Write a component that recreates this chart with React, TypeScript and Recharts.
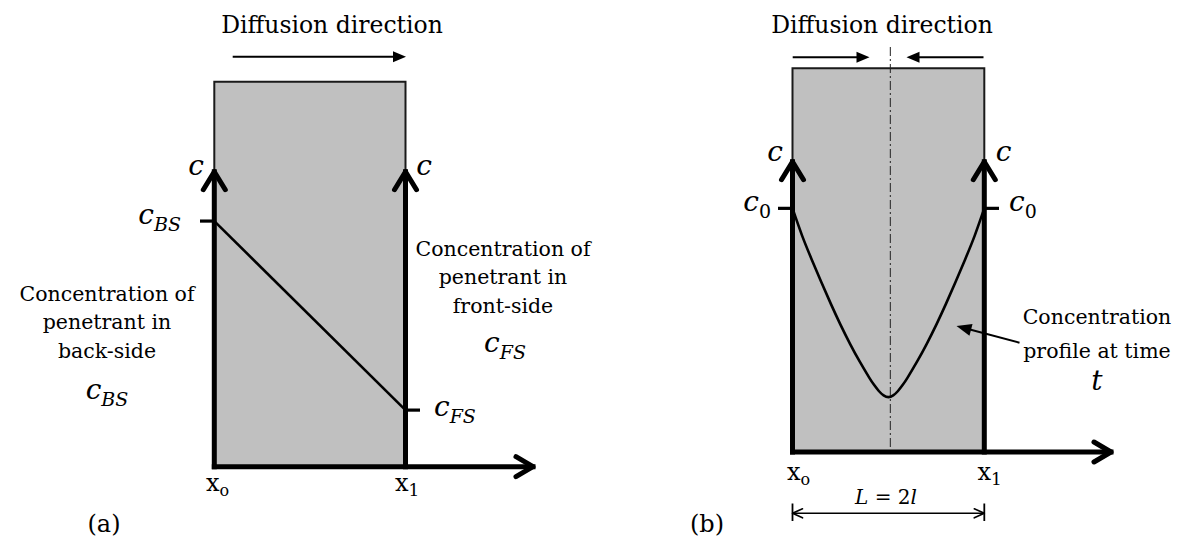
import React from 'react';
import { ComposedChart, XAxis, YAxis, Line, ReferenceArea, ReferenceLine, ReferenceDot } from 'recharts';

// ---------------- data ----------------
const TITLE = 'Diffusion direction';
const backSideText = ['Concentration of', 'penetrant in', 'back-side'];
const frontSideText = ['Concentration of', 'penetrant in', 'front-side'];
const profileNote = ['Concentration', 'profile at time'];
const panelTags = ['(a)', '(b)'];

// Panel (a): linear steady-state profile across the slab (x_o = 0, x_1 = 1)
const depthA = [0, 1];
const concA = [0.638, 0.147]; // c_BS, c_FS
const cBS = concA[0];
const cFS = concA[1];

// Panel (b): symmetric sorption profile at time t
const depthB = [0, 0.05, 0.1, 0.15, 0.2, 0.25, 0.3, 0.35, 0.4, 0.425, 0.45, 0.475, 0.5, 0.525, 0.55, 0.575, 0.6, 0.65, 0.7, 0.75, 0.8, 0.85, 0.9, 0.95, 1];
const concB = [0.635, 0.564, 0.502, 0.443, 0.386, 0.332, 0.282, 0.236, 0.194, 0.175, 0.159, 0.1475, 0.143, 0.1475, 0.159, 0.175, 0.194, 0.236, 0.282, 0.332, 0.386, 0.443, 0.502, 0.564, 0.635];
const c0B = 0.635;

const slabX = [0, 1];
const slabC = [0, 1];

// ---------------- layout ----------------
const H = 540;
const FONT = "'DejaVu Serif', 'Liberation Serif', serif";
type Geo = { left: number; width: number; x0px: number; x1px: number; c0py: number; c1py: number };
const geoA: Geo = { left: 0, width: 640, x0px: 214.3, x1px: 405.5, c0py: 466.7, c1py: 81.7 };
const geoB: Geo = { left: 590, width: 589, x0px: 792.5, x1px: 984.3, c0py: 452, c1py: 68.3 };

const domains = (g: Geo) => {
  const kx = g.x1px - g.x0px;
  const ky = g.c0py - g.c1py;
  const lx = g.x0px - g.left;
  return { x: [-lx / kx, (g.width - lx) / kx] as [number, number], y: [-(H - g.c0py) / ky, g.c0py / ky] as [number, number] };
};
const ux = (g: Geo, px: number) => (px - g.x0px) / (g.x1px - g.x0px);
const uy = (g: Geo, py: number) => (g.c0py - py) / (g.c0py - g.c1py);

type Part = { t: string; i?: boolean; sub?: boolean; fs?: number; dy?: number };
type Lbl = { px: number; py: number; anchor: 'start' | 'middle' | 'end'; size: number; parts: Part[] };

const txt = (s: string): Part[] => [{ t: s }];
const cSub = (sub: string, italicSub = true): Part[] => [{ t: 'c', i: true }, { t: sub, i: italicSub, sub: true, fs: 19, dy: 7 }];
const xSub = (sub: string, fs: number): Part[] => [{ t: 'x' }, { t: sub, sub: true, fs, dy: 5 }];
const cOnly: Part[] = [{ t: 'c', i: true }];

const labelsA: Lbl[] = [
  { px: 332, py: 32.7, anchor: 'middle', size: 23.5, parts: txt(TITLE) },
  { px: 196, py: 175, anchor: 'middle', size: 28, parts: cOnly },
  { px: 424, py: 175, anchor: 'middle', size: 28, parts: cOnly },
  { px: 181, py: 224, anchor: 'end', size: 28, parts: cSub('BS') },
  { px: 107, py: 301, anchor: 'middle', size: 20.5, parts: txt(backSideText[0]) },
  { px: 107, py: 329, anchor: 'middle', size: 20.5, parts: txt(backSideText[1]) },
  { px: 107, py: 358, anchor: 'middle', size: 20.5, parts: txt(backSideText[2]) },
  { px: 107, py: 399, anchor: 'middle', size: 28, parts: cSub('BS') },
  { px: 503, py: 256, anchor: 'middle', size: 20.5, parts: txt(frontSideText[0]) },
  { px: 503, py: 284, anchor: 'middle', size: 20.5, parts: txt(frontSideText[1]) },
  { px: 503, py: 313, anchor: 'middle', size: 20.5, parts: txt(frontSideText[2]) },
  { px: 505, py: 352, anchor: 'middle', size: 28, parts: cSub('FS') },
  { px: 434, py: 416, anchor: 'start', size: 28, parts: cSub('FS') },
  { px: 206, py: 491, anchor: 'start', size: 24, parts: xSub('o', 16) },
  { px: 395, py: 491, anchor: 'start', size: 24, parts: xSub('1', 17) },
  { px: 104, py: 532, anchor: 'middle', size: 24, parts: txt(panelTags[0]) },
];

const labelsB: Lbl[] = [
  { px: 882, py: 32.7, anchor: 'middle', size: 23.5, parts: txt(TITLE) },
  { px: 775, py: 161, anchor: 'middle', size: 28, parts: cOnly },
  { px: 1003.5, py: 161, anchor: 'middle', size: 28, parts: cOnly },
  { px: 771, py: 211, anchor: 'end', size: 28, parts: cSub('0', false) },
  { px: 1009, py: 211, anchor: 'start', size: 28, parts: cSub('0', false) },
  { px: 1097, py: 324, anchor: 'middle', size: 20.5, parts: txt(profileNote[0]) },
  { px: 1097, py: 358, anchor: 'middle', size: 20.5, parts: txt(profileNote[1]) },
  { px: 1097, py: 390, anchor: 'middle', size: 28, parts: [{ t: 't', i: true }] },
  { px: 787, py: 480, anchor: 'start', size: 24, parts: xSub('o', 16) },
  { px: 977.5, py: 480, anchor: 'start', size: 24, parts: xSub('1', 17) },
  { px: 886, py: 504, anchor: 'middle', size: 20, parts: [{ t: 'L', i: true }, { t: ' = 2' }, { t: 'l', i: true }] },
  { px: 707, py: 532, anchor: 'middle', size: 24, parts: txt(panelTags[1]) },
];

const renderText = (cx: number, cy: number, l: Lbl) => {
  let inSub = 0;
  return (
    <text x={cx} y={cy} textAnchor={l.anchor} fontFamily={FONT} fontSize={l.size} fill="#000">
      {l.parts.map((p, i) => {
        let dy = 0;
        if (p.sub && !inSub) { dy = p.dy ?? 6; inSub = dy; }
        else if (!p.sub && inSub) { dy = -inSub; inSub = 0; }
        return (
          <tspan key={i} fontStyle={p.i ? 'italic' : 'normal'} fontSize={p.fs ?? l.size} dy={dy || undefined}>
            {p.t}
          </tspan>
        );
      })}
    </text>
  );
};

type ArrowOpts = { sw: number; color?: string; head?: 'open' | 'filled' | 'none'; tail?: 'open' | 'none'; len?: number; half?: number; headSw?: number; dash?: string; cap?: 'butt' | 'round' | 'square' };
const arrowShape = (o: ArrowOpts) => (p: any) => {
  const { x1, y1, x2, y2 } = p;
  const dx = x2 - x1;
  const dy = y2 - y1;
  const L = Math.hypot(dx, dy) || 1;
  const vx = dx / L;
  const vy = dy / L;
  const nx = -vy;
  const ny = vx;
  const color = o.color ?? '#000';
  const len = o.len ?? 12;
  const half = o.half ?? 5;
  const hs = o.headSw ?? o.sw;
  let ex = x2;
  let ey = y2;
  if (o.head === 'filled') { ex = x2 - vx * len * 0.6; ey = y2 - vy * len * 0.6; }
  const chevron = (tx: number, ty: number, ax: number, ay: number) =>
    `M${tx - ax * len + nx * half},${ty - ay * len + ny * half} L${tx},${ty} L${tx - ax * len - nx * half},${ty - ay * len - ny * half}`;
  return (
    <g>
      <line x1={x1} y1={y1} x2={ex} y2={ey} stroke={color} strokeWidth={o.sw} strokeLinecap={o.cap ?? 'butt'} strokeDasharray={o.dash} />
      {o.head === 'open' && <path d={chevron(x2, y2, vx, vy)} fill="none" stroke={color} strokeWidth={hs} strokeLinecap="round" strokeLinejoin="round" />}
      {o.tail === 'open' && <path d={chevron(x1, y1, -vx, -vy)} fill="none" stroke={color} strokeWidth={hs} strokeLinecap="round" strokeLinejoin="round" />}
      {o.head === 'filled' && (
        <polygon
          points={`${x2},${y2} ${x2 - vx * len + nx * half},${y2 - vy * len + ny * half} ${x2 - vx * len - nx * half},${y2 - vy * len - ny * half}`}
          fill={color}
        />
      )}
    </g>
  );
};

const seg = (key: string, a: [number, number], b: [number, number], shape: any) => (
  <ReferenceLine key={key} segment={[{ x: a[0], y: a[1] }, { x: b[0], y: b[1] }]} ifOverflow="visible" shape={shape} />
);
const lbl = (g: Geo, l: Lbl, i: number) => (
  <ReferenceDot key={`l${i}`} x={ux(g, l.px)} y={uy(g, l.py)} r={0} ifOverflow="visible" shape={(p: any) => renderText(p.cx, p.cy, l)} />
);

const axisShape = arrowShape({ sw: 5, head: 'open', len: 18, half: 11, cap: 'square' });
const xAxisShape = arrowShape({ sw: 5, head: 'open', len: 17, half: 10, cap: 'square' });
const tickShape = arrowShape({ sw: 3.2 });
const titleArrow = arrowShape({ sw: 2, head: 'filled', len: 13, half: 5.5 });
const noteArrow = arrowShape({ sw: 2, head: 'filled', len: 15, half: 6 });
const dimShape = arrowShape({ sw: 1.6, head: 'open', tail: 'open', len: 10, half: 4.5, headSw: 1.6 });
const barShape = arrowShape({ sw: 1.8 });
const dashShape = arrowShape({ sw: 1, color: '#222', dash: '9 3 2 3' });

const slabElements = (g: Geo, tipPy: number, xTipPx: number) => {
  const tip = uy(g, tipPy);
  return [
    <ReferenceArea key="slab" x1={slabX[0]} x2={slabX[1]} y1={slabC[0]} y2={slabC[1]} fill="#c0c0c0" fillOpacity={1} stroke="#1a1a1a" strokeWidth={2} ifOverflow="visible" />,
    seg('axL', [slabX[0], 0], [slabX[0], tip], axisShape),
    seg('axR', [slabX[1], 0], [slabX[1], tip], axisShape),
    seg('axX', [slabX[0], 0], [ux(g, xTipPx), 0], xAxisShape),
  ];
};

function PanelA() {
  const g = geoA;
  const d = domains(g);
  const data = depthA.map((x, i) => ({ x, c: concA[i] }));
  return (
    <div style={{ position: 'absolute', left: g.left, top: 0, width: g.width, height: H }}>
      <ComposedChart width={g.width} height={H} data={data} margin={{ top: 0, right: 0, bottom: 0, left: 0 }}>
        <XAxis type="number" dataKey="x" domain={d.x} hide allowDataOverflow />
        <YAxis type="number" domain={d.y} hide allowDataOverflow />
        {slabElements(g, 171.7, 533)}
        {seg('tBS', [ux(g, 200), cBS], [0, cBS], tickShape)}
        {seg('tFS', [1, cFS], [ux(g, 420), cFS], tickShape)}
        {seg('title', [ux(g, 232.7), uy(g, 56.7)], [ux(g, 406), uy(g, 56.7)], titleArrow)}
        <Line type="linear" dataKey="c" stroke="#000" strokeWidth={2.6} dot={false} activeDot={false} isAnimationActive={false} />
        {labelsA.map((l, i) => lbl(g, l, i))}
      </ComposedChart>
    </div>
  );
}

function PanelB() {
  const g = geoB;
  const d = domains(g);
  const data = depthB.map((x, i) => ({ x, c: concB[i] }));
  const dimY = uy(g, 513.3);
  return (
    <div style={{ position: 'absolute', left: g.left, top: 0, width: g.width, height: H }}>
      <ComposedChart width={g.width} height={H} data={data} margin={{ top: 0, right: 0, bottom: 0, left: 0 }}>
        <XAxis type="number" dataKey="x" domain={d.x} hide allowDataOverflow />
        <YAxis type="number" domain={d.y} hide allowDataOverflow />
        {slabElements(g, 161.7, 1111)}
        {seg('center', [0.51, uy(g, 447)], [0.51, uy(g, 47)], dashShape)}
        {seg('t0L', [ux(g, 778), c0B], [0, c0B], tickShape)}
        {seg('t0R', [1, c0B], [ux(g, 999), c0B], tickShape)}
        {seg('arrL', [ux(g, 792.7), uy(g, 57.3)], [ux(g, 869.5), uy(g, 57.3)], titleArrow)}
        {seg('arrR', [ux(g, 983.5), uy(g, 57.3)], [ux(g, 906.5), uy(g, 57.3)], titleArrow)}
        {seg('note', [ux(g, 1019.5), uy(g, 342.7)], [ux(g, 956.5), uy(g, 326)], noteArrow)}
        {seg('dim', [0, dimY], [1, dimY], dimShape)}
        {seg('barL', [0, uy(g, 503.5)], [0, uy(g, 521)], barShape)}
        {seg('barR', [1, uy(g, 503.5)], [1, uy(g, 521)], barShape)}
        <Line type="natural" dataKey="c" stroke="#000" strokeWidth={2.6} dot={false} activeDot={false} isAnimationActive={false} />
        {labelsB.map((l, i) => lbl(g, l, i))}
      </ComposedChart>
    </div>
  );
}

export default function App() {
  return (
    <div style={{ position: 'absolute', left: 0, top: 0, width: 1179, height: H, background: '#fff', overflow: 'hidden' }}>
      <PanelA />
      <PanelB />
    </div>
  );
}
